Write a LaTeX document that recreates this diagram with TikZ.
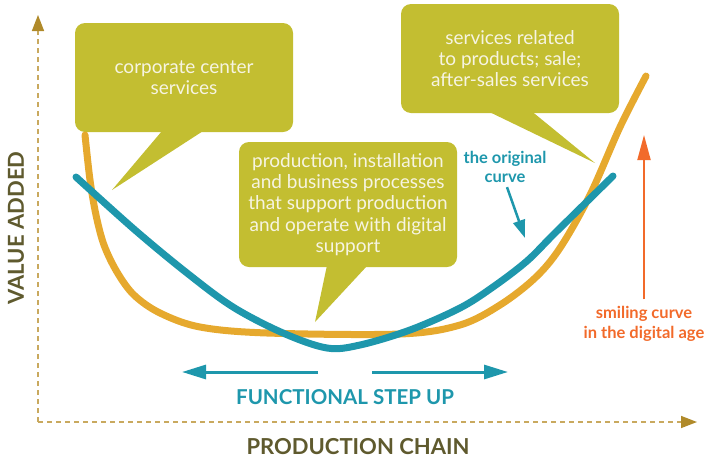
\documentclass[tikz,border=0pt]{standalone}
\usepackage{fontspec}
\setmainfont{Lato}
\usetikzlibrary{arrows.meta,positioning}
\definecolor{bubblefill}{HTML}{C3BE31}
\definecolor{bubbletext}{HTML}{F6F4E2}
\definecolor{amber}{HTML}{E6A92E}
\definecolor{curveteal}{HTML}{1E97AC}
\definecolor{axisline}{HTML}{C9A95E}
\definecolor{axistip}{HTML}{B08A2A}
\definecolor{axistext}{HTML}{5F5A2E}
\definecolor{smilered}{HTML}{F26A2A}
\tikzset{
  bubble/.style={
    fill=bubblefill, rounded corners=10pt, text=bubbletext, align=center,
    minimum width=218pt, inner sep=0pt, font=\fontsize{19}{21.3}\selectfont
  },
  axis/.style={draw=axisline, line width=1.5pt, dash pattern=on 5pt off 4pt,
    -{Triangle[length=16pt,width=12pt,color=axistip]}},
  axislabel/.style={text=axistext, font=\fontsize{22}{24}\selectfont\bfseries},
  curve/.style={line width=7pt, line cap=round},
  steparrow/.style={draw=curveteal, line width=3pt, -{Triangle[length=24pt,width=14pt]}},
  pointer/.style={draw=curveteal, line width=2.5pt, -{Triangle[length=18pt,width=12pt]}},
  smilearrow/.style={draw=smilered, line width=2pt, -{Triangle[length=25pt,width=13pt]}},
  note/.style={font=\fontsize{16.5}{19.5}\selectfont\bfseries, align=center, inner sep=0pt}
}
\begin{document}
\begin{tikzpicture}[x=1pt,y=-1pt]
  \useasboundingbox (0,0) rectangle (708,461);

  % axes
  \coordinate (origin) at (38,422);
  \coordinate (ytip) at (38,15);
  \coordinate (xtip) at (697,422);
  \draw[axis] (origin) -- (ytip);
  \draw[axis] (origin) -- (xtip);
  \node[axislabel, rotate=90] (vaxis) at (16,228) {VALUE ADDED};
  \node[axislabel] (haxis) at (358,447) {PRODUCTION CHAIN};

  % speech bubbles
  \node[bubble, minimum height=109pt] (corp) at (184,77.5) {corporate center\\services};
  \coordinate (corptip) at (112,190);
  \fill[bubblefill] ([xshift=87pt,yshift=1pt]corp.south west) -- ([xshift=128pt,yshift=1pt]corp.south west) -- (corptip) -- cycle;

  \node[bubble, minimum height=109pt] (sales) at (510,58.5) {services related\\to products; sale;\\after-sales services};
  \coordinate (salestip) at (595,163);
  \fill[bubblefill] ([xshift=89pt,yshift=1pt]sales.south west) -- ([xshift=132pt,yshift=1pt]sales.south west) -- (salestip) -- cycle;

  \node[bubble, minimum height=125pt] (prod) at (348,204.5) {production, installation\\and business processes\\that support production\\and operate with digital\\support};
  \coordinate (prodtip) at (315,322);
  \fill[bubblefill] ([xshift=88pt,yshift=1pt]prod.south west) -- ([xshift=128pt,yshift=1pt]prod.south west) -- (prodtip) -- cycle;

  % curves
  \draw[curve, draw=amber] plot[smooth, tension=0.55] coordinates {
    (85,135) (90,180) (96,215) (104,245) (117,272) (134,295) (160,313)
    (200,327) (267,333) (400,334) (460,325) (500,305) (535,278) (560,248)
    (590,195) (620,127) (646,76)};
  \draw[curve, draw=curveteal] plot[smooth, tension=0.55] coordinates {
    (76,177) (135,230) (187,273) (233,307) (283,333) (327,348) (360,345)
    (410,330) (460,308) (493,287) (527,261) (555,233) (613,176)};

  % functional step up
  \node[note, text=curveteal, font=\fontsize{20.5}{22}\selectfont\bfseries] (step) at (345,397) {FUNCTIONAL STEP UP};
  \coordinate (leftfrom) at (318,372);
  \coordinate (leftto) at (182,372);
  \coordinate (rightfrom) at (372,372);
  \coordinate (rightto) at (508,372);
  \draw[steparrow] (leftfrom) -- (leftto);
  \draw[steparrow] (rightfrom) -- (rightto);

  % the original curve
  \node[note, text=curveteal] (orig) at (505,167) {the original\\curve};
  \coordinate (origtip) at (525,238);
  \draw[pointer] ([xshift=2pt,yshift=-4pt]orig.south) -- (origtip);

  % smiling curve
  \node[note, text=smilered] (smile) at (644,324) {smiling curve\\in the digital age};
  \coordinate (smiletip) at (644,135);
  \draw[smilearrow] ([yshift=7pt]smile.north) -- (smiletip);
\end{tikzpicture}
\end{document}
